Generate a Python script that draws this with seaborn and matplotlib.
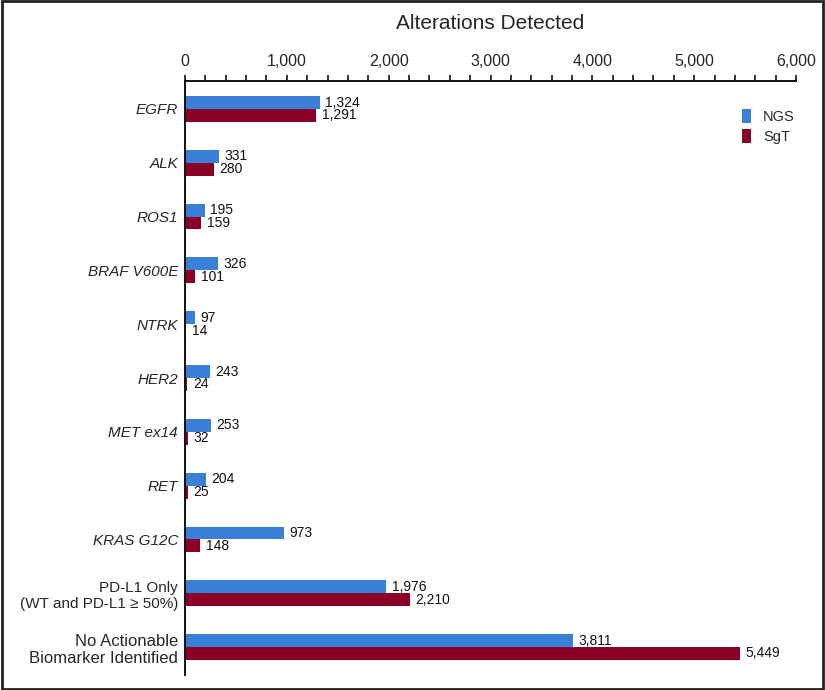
import matplotlib
matplotlib.use('Agg')
import matplotlib.pyplot as plt
from matplotlib.patches import Rectangle
from matplotlib.ticker import MultipleLocator, FuncFormatter
import seaborn as sns
import pandas as pd

categories = ['EGFR', 'ALK', 'ROS1', 'BRAF V600E', 'NTRK', 'HER2', 'MET ex14', 'RET',
              'KRAS G12C', 'PD-L1 Only\n(WT and PD-L1 \u2265 50%)',
              'No Actionable\nBiomarker Identified']
italic_cats = ['EGFR', 'ALK', 'ROS1', 'BRAF V600E', 'NTRK', 'HER2', 'MET ex14', 'RET', 'KRAS G12C']
ngs_values = [1324, 331, 195, 326, 97, 243, 253, 204, 973, 1976, 3811]
sgt_values = [1291, 280, 159, 101, 14, 24, 32, 25, 148, 2210, 5449]
methods = ['NGS', 'SgT']
colors = ['#3A80D8', '#8A0026']

df = pd.DataFrame({
    'Category': categories * 2,
    'Method': ['NGS'] * len(categories) + ['SgT'] * len(categories),
    'Count': ngs_values + sgt_values,
})

sns.set_style('white')
plt.rcParams['font.family'] = ['Liberation Sans', 'DejaVu Sans']

fig = plt.figure(figsize=(8.25, 6.9), dpi=100)
ax = fig.add_axes([185 / 825, 1 - 675 / 690, (796 - 185) / 825, (675 - 81) / 690])

sns.barplot(data=df, y='Category', x='Count', hue='Method', order=categories,
            hue_order=methods, palette=colors, orient='h', width=0.48,
            saturation=1, ax=ax, errorbar=None, linewidth=0)

for container in ax.containers:
    ax.bar_label(container, labels=[f'{v:,.0f}' for v in container.datavalues],
                 padding=4, fontsize=10, color='#111111')

ax.set_xlim(0, 6000)
ax.set_ylim(len(categories) - 0.48, -0.52)
ax.xaxis.tick_top()
ax.xaxis.set_label_position('top')
ax.xaxis.set_major_locator(MultipleLocator(1000))
ax.xaxis.set_minor_locator(MultipleLocator(200))
ax.xaxis.set_major_formatter(FuncFormatter(lambda v, p: f'{v:,.0f}'))
ax.tick_params(axis='x', which='both', direction='out', length=4, width=1.2,
               top=True, bottom=False, labelsize=11.5, pad=4.5, color='#111111')
ax.tick_params(axis='y', length=0, pad=5, labelsize=11)
ax.set_xlabel('Alterations Detected', fontsize=15, labelpad=18)
ax.set_ylabel('')

for lab in ax.get_yticklabels():
    if lab.get_text() in italic_cats:
        lab.set_style('italic')
    if lab.get_text().startswith('No Actionable'):
        lab.set_fontsize(12)

for side in ['bottom', 'right']:
    ax.spines[side].set_visible(False)
for side in ['top', 'left']:
    ax.spines[side].set_color('#111111')
    ax.spines[side].set_linewidth(1.4)

ax.legend(loc='upper left', bbox_to_anchor=(742 / 825, 1 - 109 / 690),
          bbox_transform=fig.transFigure, frameon=False, borderpad=0, borderaxespad=0,
          fontsize=10.5, handlelength=0.65, handleheight=1.1, handletextpad=0.8,
          labelspacing=0.35)

fig.add_artist(Rectangle((0.002, 0.002), 0.996, 0.996, transform=fig.transFigure,
                         fill=False, edgecolor='#222222', linewidth=2))

fig.savefig('out.png', dpi=100)
